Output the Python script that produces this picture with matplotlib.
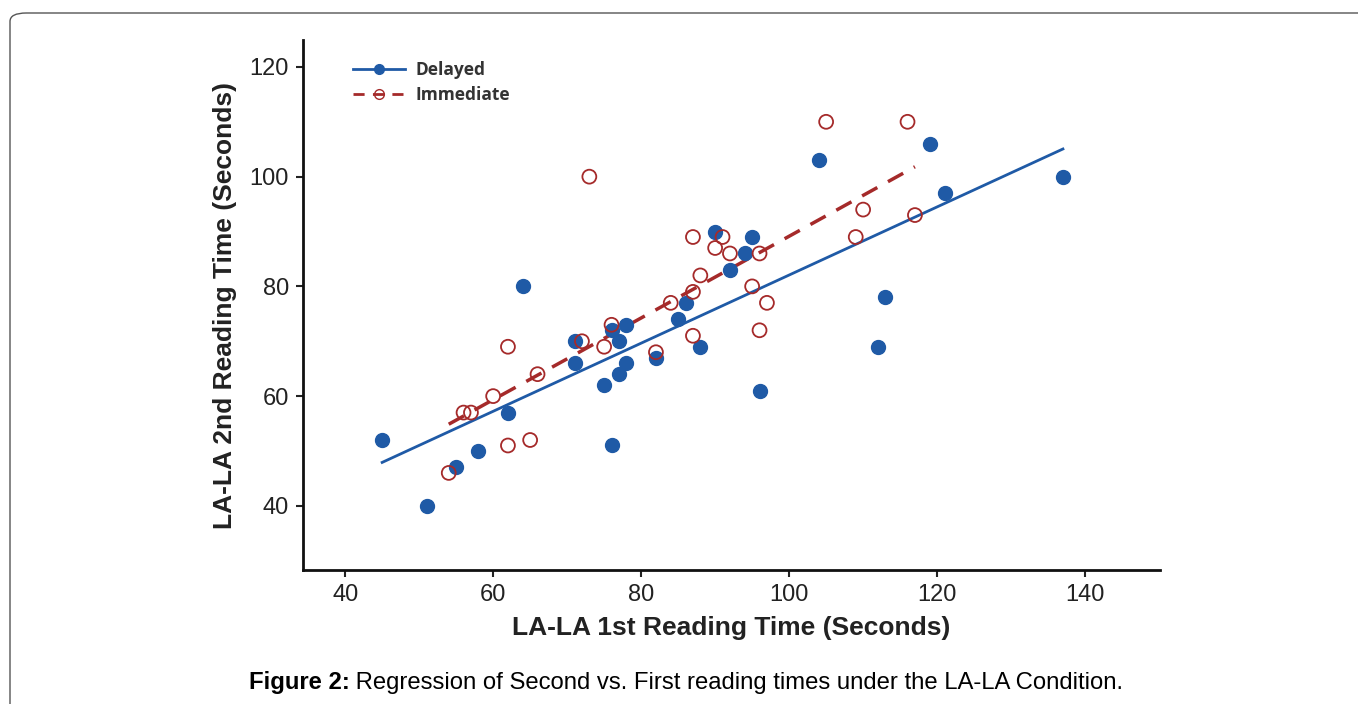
import matplotlib.pyplot as plt
from matplotlib.patches import FancyBboxPatch
from matplotlib.lines import Line2D
import numpy as np

plt.rcParams['font.family'] = ['Liberation Sans', 'DejaVu Sans']

# Delayed (filled circles)
delayed_x = [45, 51, 55, 58, 62, 64, 71, 71, 75, 76, 76, 77, 77, 78, 78,
             82, 85, 86, 88, 90, 92, 94, 95, 96, 104, 112, 113, 119, 121, 137]
delayed_y = [52, 40, 47, 50, 57, 80, 70, 66, 62, 51, 72, 70, 64, 73, 66,
             67, 74, 77, 69, 90, 83, 86, 89, 61, 103, 69, 78, 106, 97, 100]

# Immediate (open circles)
immediate_x = [54, 56, 57, 60, 62, 62, 65, 66, 72, 73, 75, 76, 82, 84, 87,
               87, 87, 88, 90, 91, 92, 95, 96, 96, 97, 105, 109, 110, 116, 117]
immediate_y = [46, 57, 57, 60, 69, 51, 52, 64, 70, 100, 69, 73, 68, 77, 89,
               79, 71, 82, 87, 89, 86, 80, 86, 72, 77, 110, 89, 94, 110, 93]

x_ticks = [40, 60, 80, 100, 120, 140]
y_ticks = [40, 60, 80, 100, 120]

blue = '#1f5aa6'
red = '#a52a2a'

fig = plt.figure(figsize=(13.58, 7.04), dpi=100)
ax = fig.add_axes([0.2231, 0.1903, 0.6310, 0.7528])

# scatter points
ax.scatter(delayed_x, delayed_y, s=100, color=blue, zorder=3)
ax.scatter(immediate_x, immediate_y, s=100, facecolor='none', edgecolor=red,
           linewidth=1.3, zorder=3)

# regression lines
dx, dy = np.array(delayed_x, float), np.array(delayed_y, float)
ix, iy = np.array(immediate_x, float), np.array(immediate_y, float)
bd = np.polyfit(dx, dy, 1)
bi = np.polyfit(ix, iy, 1)
xd = np.array([dx.min(), dx.max()])
xi = np.array([ix.min(), ix.max()])
ax.plot(xd, np.polyval(bd, xd), color=blue, lw=2, zorder=2)
ax.plot(xi, np.polyval(bi, xi), color=red, lw=2.5, ls=(0, (5, 3.5)), zorder=2)

ax.set_xlim(34.3, 150.1)
ax.set_ylim(28.3, 124.9)
ax.set_xticks(x_ticks)
ax.set_yticks(y_ticks)
ax.tick_params(labelsize=17, length=5, width=1.5, color='#222222', pad=5,
               labelcolor='#222222')
for s in ['top', 'right']:
    ax.spines[s].set_visible(False)
for s in ['left', 'bottom']:
    ax.spines[s].set_linewidth(2)
    ax.spines[s].set_color('#111111')

ax.set_xlabel('LA-LA 1st Reading Time (Seconds)', fontsize=19, fontweight='bold',
              color='#222222', labelpad=7)
ax.set_ylabel('LA-LA 2nd Reading Time (Seconds)', fontsize=19, fontweight='bold',
              color='#222222', labelpad=9)

handles = [
    Line2D([], [], color=blue, lw=2, marker='o', markersize=7),
    Line2D([], [], color=red, lw=2, ls=(0, (4, 3)), marker='o', markersize=7,
           markerfacecolor='none', markeredgecolor=red),
]
leg = ax.legend(handles, ['Delayed', 'Immediate'], loc='upper left',
                bbox_to_anchor=(0.04, 0.99), frameon=False,
                prop={'family': 'Open Sans', 'weight': 'bold', 'size': 12.5},
                handlelength=3.0, labelspacing=0.4, handletextpad=0.6)
for t in leg.get_texts():
    t.set_color('#333333')

# outer frame
frame = FancyBboxPatch((10 / 1358, -0.1), 1.2, (704 - 13) / 704 + 0.1,
                       boxstyle='round,pad=0,rounding_size=0.012',
                       transform=fig.transFigure, fill=False,
                       edgecolor='#555555', lw=1, zorder=0)
fig.patches.append(frame)

# caption: bold lead-in followed by regular text, centred together
cap_y = 1 - 683 / 704
t1 = fig.text(0, cap_y, 'Figure 2:', fontsize=17.2, fontweight='bold', va='center')
t2 = fig.text(0, cap_y, ' Regression of Second vs. First reading times under the LA-LA Condition.',
              fontsize=17.2, va='center')
fig.canvas.draw()
r = fig.canvas.get_renderer()
w1 = t1.get_window_extent(r).width / fig.bbox.width
w2 = t2.get_window_extent(r).width / fig.bbox.width
x0 = 686 / 1358 - (w1 + w2) / 2
t1.set_x(x0)
t2.set_x(x0 + w1)

fig.savefig('out.png', dpi=100)
